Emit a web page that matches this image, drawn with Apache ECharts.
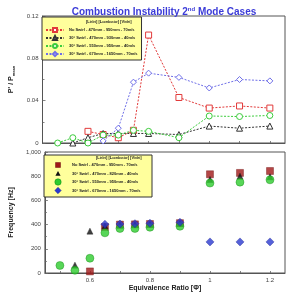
<!DOCTYPE html>
<html>
<head>
<meta charset="utf-8">
<script src="https://cdn.jsdelivr.net/npm/echarts@6/dist/echarts.min.js"></script>
<style>
  html, body { margin: 0; padding: 0; background: #fff; }
  #main { width: 287px; height: 293px; }
</style>
</head>
<body>
<div id="main"></div>
<script>
// equivalence ratio values
var phi = [0.5, 0.55, 0.6, 0.65, 0.7, 0.75, 0.8, 0.9, 1.0, 1.1, 1.2];

// top: P'/Pmean
var ampNoSwirl = [null, null, 0.011, 0.008, 0.005, 0.012, 0.102, 0.043, 0.033, 0.035, 0.033];
var ampSw470 = [null, 0.0, 0.005, 0.009, 0.009, 0.009, 0.009, 0.008, 0.016, 0.014, 0.016];
var ampSw550 = [0.0, 0.005, 0.0, 0.0075, 0.0075, 0.012, 0.011, 0.005, 0.0255, 0.025, 0.026];
var ampSw670 = [null, null, null, 0.002, 0.014, 0.0575, 0.066, 0.062, 0.052, 0.060, 0.0587];

// bottom: frequency [Hz]
var frqNoSwirl = [null, null, 13, 380, 400, 402, 405, 412, 816, 827, 843];
var frqSw470 = [null, 65, 346, 390, 395, 400, 402, 410, 773, 800, 795];
var frqSw550 = [62, 22, 122, 332, 368, 368, 378, 386, 743, 751, 770];
var frqSw670 = [null, null, null, 403, 405, 408, 411, 419, 257, 257, 257];

var topNames = ['No Swirl - 470mm - 950mm - 70m/s', '30° Swirl - 470mm - 930mm - 40m/s',
  '30° Swirl - 550mm - 950mm - 40m/s', '30° Swirl - 670mm - 1650mm - 70m/s'];
var botNames = ['No Swirl - 470mm - 950mm - 70m/s', '30° Swirl - 470mm - 820mm - 40m/s',
  '30° Swirl - 550mm - 950mm - 40m/s', '30° Swirl - 670mm - 1650mm - 70m/s'];

var xTicks = [0.6, 0.8, 1, 1.2];
var xMinor = [0.5, 0.6, 0.7, 0.8, 0.9, 1, 1.1, 1.2];

function pairs(vals) {
  var out = [];
  for (var i = 0; i < phi.length; i++) {
    if (vals[i] != null) out.push([phi[i], vals[i]]);
  }
  return out;
}

var chart = echarts.init(document.getElementById('main'), null, { renderer: 'canvas' });

var lineCol = ['#e23a3a', '#333333', '#3ccc3c', '#6f6fe8'];
var topSym = ['rect', 'triangle', 'circle', 'diamond'];
var topData = [ampNoSwirl, ampSw470, ampSw550, ampSw670];
var botCol = ['#a01818', '#111111', '#2ecc2e', '#2a3ad0'];
var botBorder = ['#701010', '#111111', '#118811', '#1a2090'];
var botData = [frqNoSwirl, frqSw470, frqSw550, frqSw670];
var botSize = [7, 6, 8, 8];

var series = [];
for (var i = 0; i < 4; i++) {
  series.push({
    name: topNames[i],
    type: 'line',
    xAxisIndex: 0, yAxisIndex: 0,
    data: pairs(topData[i]),
    symbol: topSym[i],
    symbolSize: 6,
    lineStyle: { color: lineCol[i], width: 1, type: [2, 1.5] },
    itemStyle: { color: '#fff', borderColor: lineCol[i], borderWidth: 1 },
    emphasis: { disabled: true },
    animation: false
  });
}
for (var j = 0; j < 4; j++) {
  series.push({
    name: 'f' + j,
    type: 'scatter',
    xAxisIndex: 1, yAxisIndex: 1,
    data: pairs(botData[j]),
    symbol: topSym[j],
    symbolSize: botSize[j],
    itemStyle: { color: botCol[j], borderColor: botBorder[j], borderWidth: 0.5 },
    emphasis: { disabled: true },
    animation: false
  });
}

var axisFont = { fontFamily: 'Arial', fontSize: 6, color: '#444' };
var tickStyle = { color: '#666', width: 0.8 };

function yAxisBase(extra) {
  return Object.assign({
    axisLine: { show: true, lineStyle: { color: '#555' } },
    axisTick: { show: true, inside: true, length: 3, lineStyle: tickStyle },
    minorTick: { show: true, splitNumber: 2, length: 2, lineStyle: tickStyle },
    axisLabel: Object.assign({ margin: 4 }, axisFont),
    splitLine: { show: false }
  }, extra);
}

// bottom legend drawn as graphic (box, header, icons, labels)
var lgX = 44, lgY = 155, rowY = [165, 173.5, 182, 190.5], iconX = 58, txtX = 72;
var legendGfx = [
  { type: 'rect', shape: { x: lgX, y: lgY, width: 108, height: 42 }, style: { fill: '#ffff9c', stroke: '#333', lineWidth: 1 }, z: 90 },
  {
    type: 'text', x: 96, y: 156, z: 100,
    style: {
      text: '[L{s|inlet}] [L{s|combustor}] [V{s|inlet}]',
      font: 'bold 4px Arial', fill: '#222',
      rich: { s: { fontSize: 3, fontWeight: 'bold', verticalAlign: 'bottom' } }
    }
  },
  { type: 'rect', shape: { x: iconX - 2.5, y: rowY[0] - 2.5, width: 5, height: 5 }, style: { fill: botCol[0], stroke: botBorder[0], lineWidth: 0.5 }, z: 100 },
  { type: 'polygon', shape: { points: [[iconX, rowY[1] - 2.6], [iconX + 2.6, rowY[1] + 2.2], [iconX - 2.6, rowY[1] + 2.2]] }, style: { fill: botCol[1] }, z: 100 },
  { type: 'circle', shape: { cx: iconX, cy: rowY[2], r: 3.2 }, style: { fill: botCol[2], stroke: botBorder[2], lineWidth: 0.5 }, z: 100 },
  { type: 'polygon', shape: { points: [[iconX, rowY[3] - 3.2], [iconX + 3.2, rowY[3]], [iconX, rowY[3] + 3.2], [iconX - 3.2, rowY[3]]] }, style: { fill: botCol[3], stroke: botBorder[3], lineWidth: 0.5 }, z: 100 }
];
for (var k = 0; k < 4; k++) {
  legendGfx.push({
    type: 'text', x: txtX, y: rowY[k], z: 100,
    style: { text: botNames[k], font: 'bold 4px Arial', fill: '#222', verticalAlign: 'middle' }
  });
}

chart.setOption({
  backgroundColor: '#fff',
  title: {
    text: 'Combustion Instability 2{s|nd} Mode Cases',
    left: 159, top: 1, textAlign: 'center',
    textStyle: {
      fontFamily: 'Arial', fontSize: 10, fontWeight: 'bold', color: '#3b3bd8',
      rich: { s: { fontSize: 6, fontWeight: 'bold', color: '#3b3bd8', verticalAlign: 'top', padding: [0, 0, 6, 0] } }
    }
  },
  grid: [
    { left: 39, top: 16, width: 246, height: 127, show: true, borderColor: '#555', borderWidth: 1, backgroundColor: 'transparent' },
    { left: 39, top: 152, width: 246, height: 123, show: true, borderColor: '#555', borderWidth: 1, backgroundColor: 'transparent' }
  ],
  xAxis: [
    {
      gridIndex: 0, type: 'value', min: 0.45, max: 1.25,
      axisLine: { lineStyle: { color: '#555' } },
      axisTick: { customValues: xMinor, inside: true, length: 2, lineStyle: tickStyle },
      axisLabel: { show: false }, splitLine: { show: false }
    },
    {
      gridIndex: 1, type: 'value', min: 0.45, max: 1.25,
      name: 'Equivalence Ratio [Φ]', nameLocation: 'middle', nameGap: 12,
      nameTextStyle: { fontFamily: 'Arial', fontSize: 7, fontWeight: 'bold', color: '#222' },
      axisLine: { lineStyle: { color: '#555' } },
      axisTick: { customValues: xMinor, inside: true, length: 2, lineStyle: tickStyle },
      axisLabel: Object.assign({ customValues: xTicks, margin: 4 }, axisFont),
      splitLine: { show: false }
    }
  ],
  yAxis: [
    yAxisBase({
      gridIndex: 0, type: 'value', min: 0, max: 0.12, interval: 0.04,
      name: "P' / P{s|mean}", nameLocation: 'middle', nameGap: 27,
      nameTextStyle: {
        fontFamily: 'Arial', fontSize: 7, fontWeight: 'bold', color: '#222',
        rich: { s: { fontSize: 4, fontWeight: 'bold', verticalAlign: 'bottom', padding: [4, 0, 0, 0] } }
      }
    }),
    yAxisBase({
      gridIndex: 1, type: 'value', min: 0, max: 1000, interval: 200,
      name: 'Frequency [Hz]', nameLocation: 'middle', nameGap: 28,
      nameTextStyle: { fontFamily: 'Arial', fontSize: 7, fontWeight: 'bold', color: '#222' }
    })
  ],
  legend: [
    {
      data: topNames, orient: 'vertical', left: 42, top: 17,
      width: 101, padding: [10, 4, 3, 3], itemGap: 2, itemWidth: 18, itemHeight: 5,
      backgroundColor: '#ffff9c', borderColor: '#333', borderWidth: 1,
      textStyle: { fontFamily: 'Arial', fontSize: 4, fontWeight: 'bold', color: '#222' },
      selectedMode: false
    }
  ],
  graphic: [
    {
      type: 'text', left: 86, top: 20, z: 100,
      style: {
        text: '[L{s|inlet}] [L{s|combustor}] [V{s|inlet}]',
        font: 'bold 4px Arial', fill: '#222',
        rich: { s: { fontSize: 3, fontWeight: 'bold', verticalAlign: 'bottom' } }
      }
    }
  ].concat(legendGfx),
  series: series
});
</script>
</body>
</html>
